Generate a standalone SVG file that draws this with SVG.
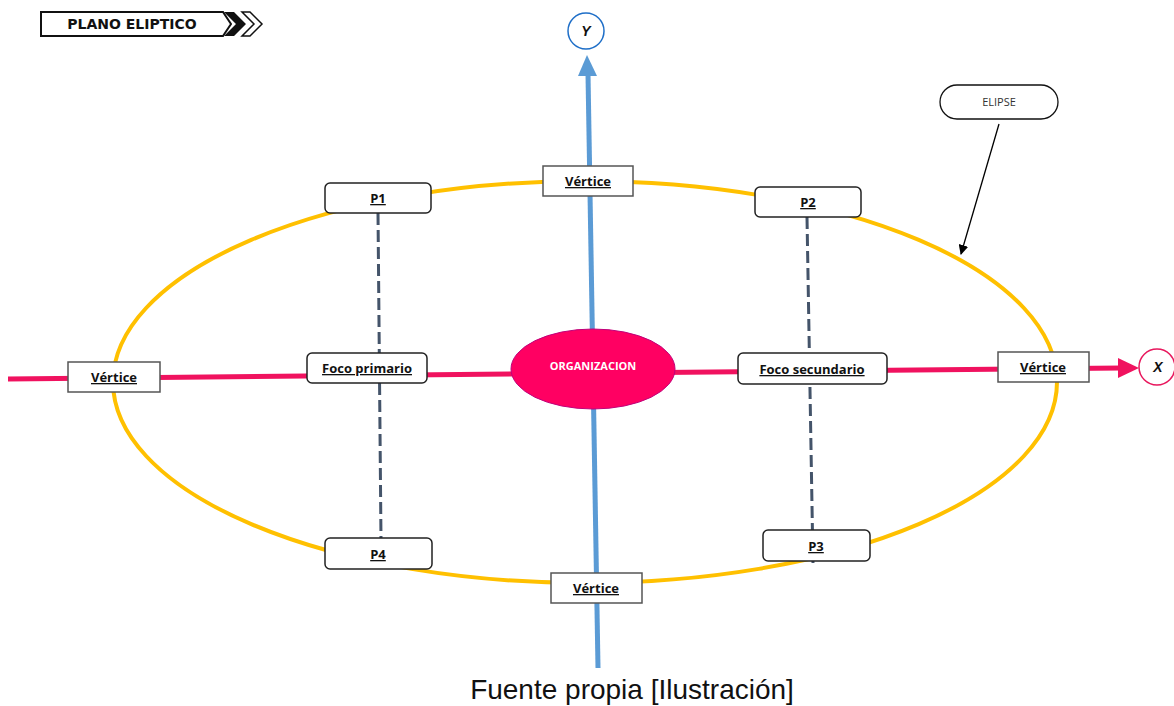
<svg xmlns="http://www.w3.org/2000/svg" width="1174" height="706" viewBox="0 0 1174 706">
<style>
.box{fill:#fff;stroke:#222;stroke-width:1.5}
.sq{fill:#fff;stroke:#555;stroke-width:1.5}
.lbl{font-family:"Open Sans","Liberation Sans",sans-serif;font-weight:bold;font-size:13px;fill:#111;text-anchor:middle;text-decoration:underline}
.dash{stroke:#44546A;stroke-width:3;stroke-dasharray:12,5;fill:none}
</style>
<defs>
<marker id="ah" viewBox="0 0 10 10" refX="9" refY="5" markerWidth="10" markerHeight="10" markerUnits="userSpaceOnUse" orient="auto"><path d="M0,0 L10,5 L0,10 z" fill="#000"/></marker>
</defs>
<rect width="1174" height="706" fill="#fff"/>
<g id="title">
<path d="M41,12 H223 L231,24 L223,36 H41 Z" fill="#fff" stroke="#111" stroke-width="2"/>
<path d="M224,12 H234 L246,24 L234,36 H224 L236,24 Z" fill="#111"/>
<path d="M242,12 H250 L262,24 L250,36 H242 L254,24 Z" fill="#fff" stroke="#111" stroke-width="1.5"/>
<text x="132" y="29" font-family="'DejaVu Sans','Liberation Sans',sans-serif" font-weight="bold" font-size="14" text-anchor="middle" fill="#111">PLANO ELIPTICO</text>
</g>
<g id="ellipse-shape">
<ellipse cx="585" cy="382" rx="472" ry="201" fill="none" stroke="#FFC000" stroke-width="4"/>
</g>
<g id="connectors">
<line x1="8" y1="379" x2="1122" y2="368" stroke="#F0125F" stroke-width="5"/>
<path d="M1118,358 L1139,368 L1118,378 Z" fill="#F0125F"/>
<line x1="598" y1="668" x2="588" y2="74" stroke="#5B9BD5" stroke-width="5"/>
<path d="M578,76 L587,55 L597,76 Z" fill="#5B9BD5"/>
<line class="dash" x1="378" y1="213" x2="381" y2="540"/>
<line class="dash" x1="807" y1="217" x2="813" y2="563"/>
<line x1="999" y1="124" x2="961" y2="254" stroke="#000" stroke-width="1.3" marker-end="url(#ah)"/>
</g>
<g id="y-label">
<circle cx="586" cy="31" r="18" fill="#fff" stroke="#1F6FC8" stroke-width="1.5"/>
<text x="586" y="36" font-family="'Liberation Sans',sans-serif" font-weight="bold" font-style="italic" font-size="14" text-anchor="middle" fill="#111">Y</text>
</g>
<g id="x-label">
<circle cx="1157" cy="367" r="18" fill="#fff" stroke="#E8175D" stroke-width="1.5"/>
<text x="1158" y="372" font-family="'Liberation Sans',sans-serif" font-weight="bold" font-style="italic" font-size="14" text-anchor="middle" fill="#111">X</text>
</g>
<g id="vertice-top"><rect class="sq" x="543" y="166" width="90" height="30"/><text class="lbl" x="588" y="186">Vértice</text></g>
<g id="p1"><rect class="box" x="325" y="183" width="106" height="30" rx="5"/><text class="lbl" x="378" y="203">P1</text></g>
<g id="p2"><rect class="box" x="755" y="187" width="106" height="30" rx="5"/><text class="lbl" x="808" y="207">P2</text></g>
<g id="vertice-left"><rect class="sq" x="68" y="362" width="92" height="30"/><text class="lbl" x="114" y="382">Vértice</text></g>
<g id="foco-primario"><rect class="box" x="307" y="353" width="120" height="30" rx="5"/><text class="lbl" x="367" y="373">Foco primario</text></g>
<g id="organizacion"><ellipse cx="593" cy="369" rx="82" ry="40" fill="#FF0062" stroke="#C0007A" stroke-width="1"/><text x="593" y="370" font-family="'Open Sans','Liberation Sans',sans-serif" font-weight="bold" font-size="11" fill="#fff" text-anchor="middle">ORGANIZACION</text></g>
<g id="foco-secundario"><rect class="box" x="738" y="353" width="149" height="31" rx="5"/><text class="lbl" x="812" y="374">Foco secundario</text></g>
<g id="vertice-right"><rect class="sq" x="998" y="352" width="91" height="30"/><text class="lbl" x="1043" y="372">Vértice</text></g>
<g id="p4"><rect class="box" x="325" y="538" width="107" height="31" rx="5"/><text class="lbl" x="378" y="559">P4</text></g>
<g id="p3"><rect class="box" x="763" y="530" width="107" height="31" rx="5"/><text class="lbl" x="816" y="551">P3</text></g>
<g id="vertice-bottom"><rect class="sq" x="551" y="573" width="91" height="30"/><text class="lbl" x="596" y="593">Vértice</text></g>
<g id="elipse-label"><rect x="940" y="85" width="118" height="34" rx="17" fill="#fff" stroke="#111" stroke-width="1.3"/><text x="999" y="106" font-family="'Open Sans','Liberation Sans',sans-serif" font-size="11" fill="#333" text-anchor="middle">ELIPSE</text></g>
<text x="632" y="699" font-family="'Liberation Sans',Arial,sans-serif" font-size="28" fill="#111" text-anchor="middle">Fuente propia [Ilustración]</text>
</svg>
